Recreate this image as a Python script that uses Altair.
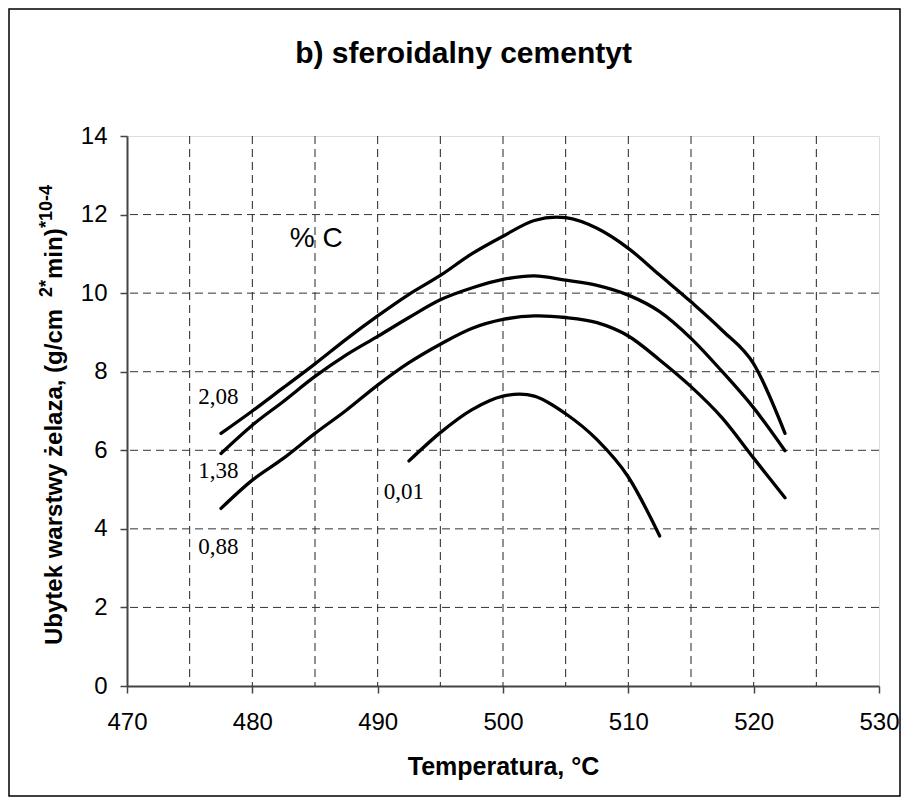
import altair as alt
import pandas as pd

# ---- data ----
temps_main = [477.5, 480, 482.5, 485, 487.5, 490, 492.5, 495, 497.5, 500,
              502.5, 505, 507.5, 510, 512.5, 515, 517.5, 520, 522.5]
c208 = [6.43, 7.00, 7.60, 8.20, 8.83, 9.42, 9.97, 10.45, 11.00, 11.45,
        11.85, 11.92, 11.65, 11.14, 10.46, 9.78, 9.05, 8.20, 6.43]
c138 = [5.92, 6.64, 7.25, 7.88, 8.43, 8.90, 9.38, 9.83, 10.13, 10.35,
        10.44, 10.33, 10.20, 9.95, 9.53, 8.85, 8.00, 7.08, 5.99]
c088 = [4.52, 5.24, 5.80, 6.43, 7.02, 7.66, 8.23, 8.70, 9.10, 9.33,
        9.42, 9.38, 9.25, 8.91, 8.30, 7.62, 6.82, 5.80, 4.79]
temps_001 = [492.5, 495, 497.5, 500, 502.5, 505, 507.5, 510, 512.5]
c001 = [5.73, 6.45, 7.03, 7.38, 7.38, 6.93, 6.27, 5.32, 3.82]

label_text = ["2,08", "1,38", "0,88", "0,01"]
label_x = [477.3, 477.3, 477.3, 492.1]
label_y = [7.36, 5.48, 3.53, 4.93]

head_text = ["% C"]
head_x = [485.1]
head_y = [11.39]

x_ticks = [470, 480, 490, 500, 510, 520, 530]
y_ticks = [0, 2, 4, 6, 8, 10, 12, 14]
x_grid = [475, 480, 485, 490, 495, 500, 505, 510, 515, 520, 525]
y_grid = [2, 4, 6, 8, 10, 12]

title_text = "b) sferoidalny cementyt"
x_title = "Temperatura, °C"
# y-axis title pieces: (text, is_superscript)
y_title_parts = [("Ubytek warstwy żelaza, (g/cm", False), ("2*", True),
                 ("min)", False), ("*10-4", True)]

rows = []
for name, xs, ys in [("2,08", temps_main, c208), ("1,38", temps_main, c138),
                     ("0,88", temps_main, c088), ("0,01", temps_001, c001)]:
    for t, v in zip(xs, ys):
        rows.append({"series": name, "T": t, "v": v})
df = pd.DataFrame(rows)

W, H = 752, 550
xscale = alt.Scale(domain=[470, 530], nice=False, zero=False)
yscale = alt.Scale(domain=[0, 14], nice=False)

SANS = "Liberation Sans"
SERIF = "Liberation Serif"

x_axis = alt.Axis(values=x_ticks, grid=False, tickSize=7, tickColor="#444",
                  tickWidth=1.5, domainColor="#444", domainWidth=2,
                  labelFont=SANS, labelFontSize=24, labelColor="black",
                  labelPadding=17, labelFlush=False, labelOverlap=False,
                  title=x_title, titleFont=SANS, titleFontSize=25,
                  titleFontWeight="bold", titleColor="black", titlePadding=20)
y_axis = alt.Axis(values=y_ticks, grid=False, tickSize=7, tickColor="#444",
                  tickWidth=1.5, domainColor="#444", domainWidth=2,
                  labelFont=SANS, labelFontSize=24, labelColor="black",
                  labelPadding=13, labelFlush=False, labelOverlap=False,
                  title="")


def X(field):
    return alt.X(field, scale=xscale, axis=x_axis)


def Y(field):
    return alt.Y(field, scale=yscale, axis=y_axis)


gx = alt.Chart(pd.DataFrame({"g": x_grid})).mark_rule(
    color="#222", strokeWidth=1, strokeDash=[8, 5]
).encode(x=X("g:Q"))
gy = alt.Chart(pd.DataFrame({"g": y_grid})).mark_rule(
    color="#333", strokeWidth=1, strokeDash=[8, 5]
).encode(y=Y("g:Q"))

lines = alt.Chart(df).mark_line(
    color="black", strokeWidth=3.3, interpolate="cardinal",
    strokeCap="round", strokeJoin="round"
).encode(
    x=X("T:Q"),
    y=Y("v:Q"),
    detail="series:N",
)

labels = alt.Chart(pd.DataFrame({"t": label_text, "x": label_x, "y": label_y})).mark_text(
    font=SERIF, fontSize=23, color="black", align="center", baseline="middle"
).encode(x=X("x:Q"), y=Y("y:Q"), text="t:N")

head = alt.Chart(pd.DataFrame({"t": head_text, "x": head_x, "y": head_y})).mark_text(
    font=SANS, fontSize=28, color="black", align="center", baseline="middle"
).encode(x=X("x:Q"), y=Y("y:Q"), text="t:N")

title = alt.Chart(pd.DataFrame({"t": [title_text]})).mark_text(
    font=SANS, fontSize=30, fontWeight="bold", color="black",
    align="center", baseline="alphabetic"
).encode(x=alt.value(336.5), y=alt.value(-73), text="t:N")

# rotated y-axis title, assembled from normal and superscript pieces
part_pos = [509, 161, 143, 92]   # start of each piece along the axis (px from plot top)
ytitle_layers = []
for (txt, sup), pos in zip(y_title_parts, part_pos):
    ytitle_layers.append(
        alt.Chart(pd.DataFrame({"t": [txt]})).mark_text(
            font=SANS, fontSize=18 if sup else 24, fontWeight="bold", color="black",
            align="left", baseline="alphabetic", angle=270
        ).encode(x=alt.value(-75 if sup else -65), y=alt.value(pos), text="t:N")
    )

frame = alt.Chart(pd.DataFrame({"a": [0]})).mark_rect(
    fill=None, stroke="black", strokeWidth=1.5, clip=False
).encode(x=alt.value(-118), x2=alt.value(773), y=alt.value(-127), y2=alt.value(660))

chart = alt.layer(gx, gy, lines, labels, head, title, *ytitle_layers, frame).properties(
    width=W, height=H,
    autosize=alt.AutoSizeParams(type="none"),
    padding={"left": 127, "top": 136, "right": 30, "bottom": 117},
).configure_view(stroke="#8c8c8c", strokeWidth=1.5).configure(background="white")

chart.save("out.html", embed_options={"renderer": "svg", "actions": False})
